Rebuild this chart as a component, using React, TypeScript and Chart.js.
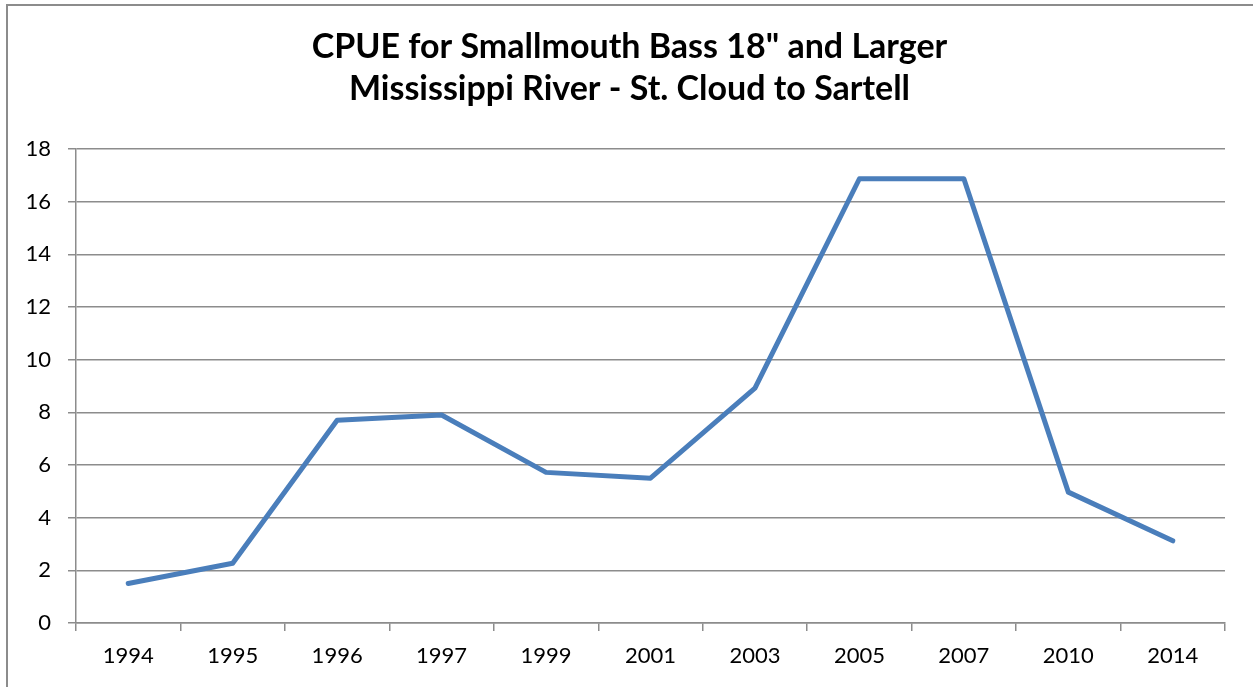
import React, { useEffect, useRef } from "react";
import { Chart, registerables } from "chart.js";

Chart.register(...registerables);

const titleLines = ['CPUE for Smallmouth Bass 18" and Larger', "Mississippi River - St. Cloud to Sartell"];
const years = ["1994", "1995", "1996", "1997", "1999", "2001", "2003", "2005", "2007", "2010", "2014"];
const cpue = [1.5, 2.27, 7.7, 7.9, 5.72, 5.5, 8.92, 16.87, 16.87, 4.97, 3.12];
const yMin = 0;
const yMax = 18;
const yStep = 2;

const FONT = "Lato, 'Open Sans', sans-serif";
const GRID = "#8c8c8c";

export default function App() {
  const ref = useRef<HTMLCanvasElement | null>(null);
  useEffect(() => {
    document.body.style.margin = "0";
    if (!ref.current) return;
    const chart = new Chart(ref.current, {
      type: "line",
      data: {
        labels: years,
        datasets: [
          {
            data: cpue,
            borderColor: "#4a7ebb",
            backgroundColor: "#4a7ebb",
            borderWidth: 5,
            pointRadius: 0,
            borderCapStyle: "round",
            borderJoinStyle: "round",
            tension: 0,
          },
        ],
      },
      options: {
        responsive: false,
        animation: false,
        layout: { padding: { left: 6, right: 0, top: 0, bottom: 0 } },
        plugins: {
          legend: { display: false },
          tooltip: { enabled: false },
          title: {
            display: true,
            text: titleLines,
            color: "#000",
            font: { family: FONT, size: 34, weight: "bold", lineHeight: 42 / 34 },
            padding: { top: 26, bottom: 39 },
          },
        },
        scales: {
          x: {
            offset: true,
            grid: {
              display: true,
              offset: true,
              drawOnChartArea: false,
              drawTicks: true,
              tickLength: 8,
              color: GRID,
              lineWidth: 1.5,
            },
            border: { display: true, color: GRID, width: 1.5 },
            ticks: {
              color: "#000",
              font: { family: FONT, size: 22 },
              padding: 12,
              maxRotation: 0,
              autoSkip: false,
            },
            afterFit: (s: any) => {
              s.height = 64;
            },
          },
          y: {
            min: yMin,
            max: yMax,
            grid: {
              color: GRID,
              lineWidth: 1.5,
              tickLength: 8,
              drawTicks: true,
            },
            border: { display: true, color: GRID, width: 1.5 },
            ticks: {
              stepSize: yStep,
              color: "#000",
              font: { family: FONT, size: 22 },
              padding: 17,
            },
            afterFit: (s: any) => {
              s.width = 70;
            },
          },
          yRight: {
            position: "right",
            display: true,
            min: yMin,
            max: yMax,
            grid: { display: false, drawOnChartArea: false },
            border: { display: false },
            ticks: { display: false },
            afterFit: (s: any) => {
              s.width = 28;
            },
          },
        },
      },
    });
    return () => chart.destroy();
  }, []);
  return (
    <div style={{ position: "absolute", left: 0, top: 0, width: 1253, height: 687, background: "#fff" }}>
      <div
        style={{
          position: "absolute",
          left: 6,
          top: 4,
          width: 1247,
          height: 683,
          borderLeft: "2px solid #8c8c8c",
          borderTop: "2px solid #8c8c8c",
          boxSizing: "border-box",
        }}
      />
      <canvas ref={ref} width={1253} height={687} style={{ position: "absolute", left: 0, top: 0 }} />
    </div>
  );
}
